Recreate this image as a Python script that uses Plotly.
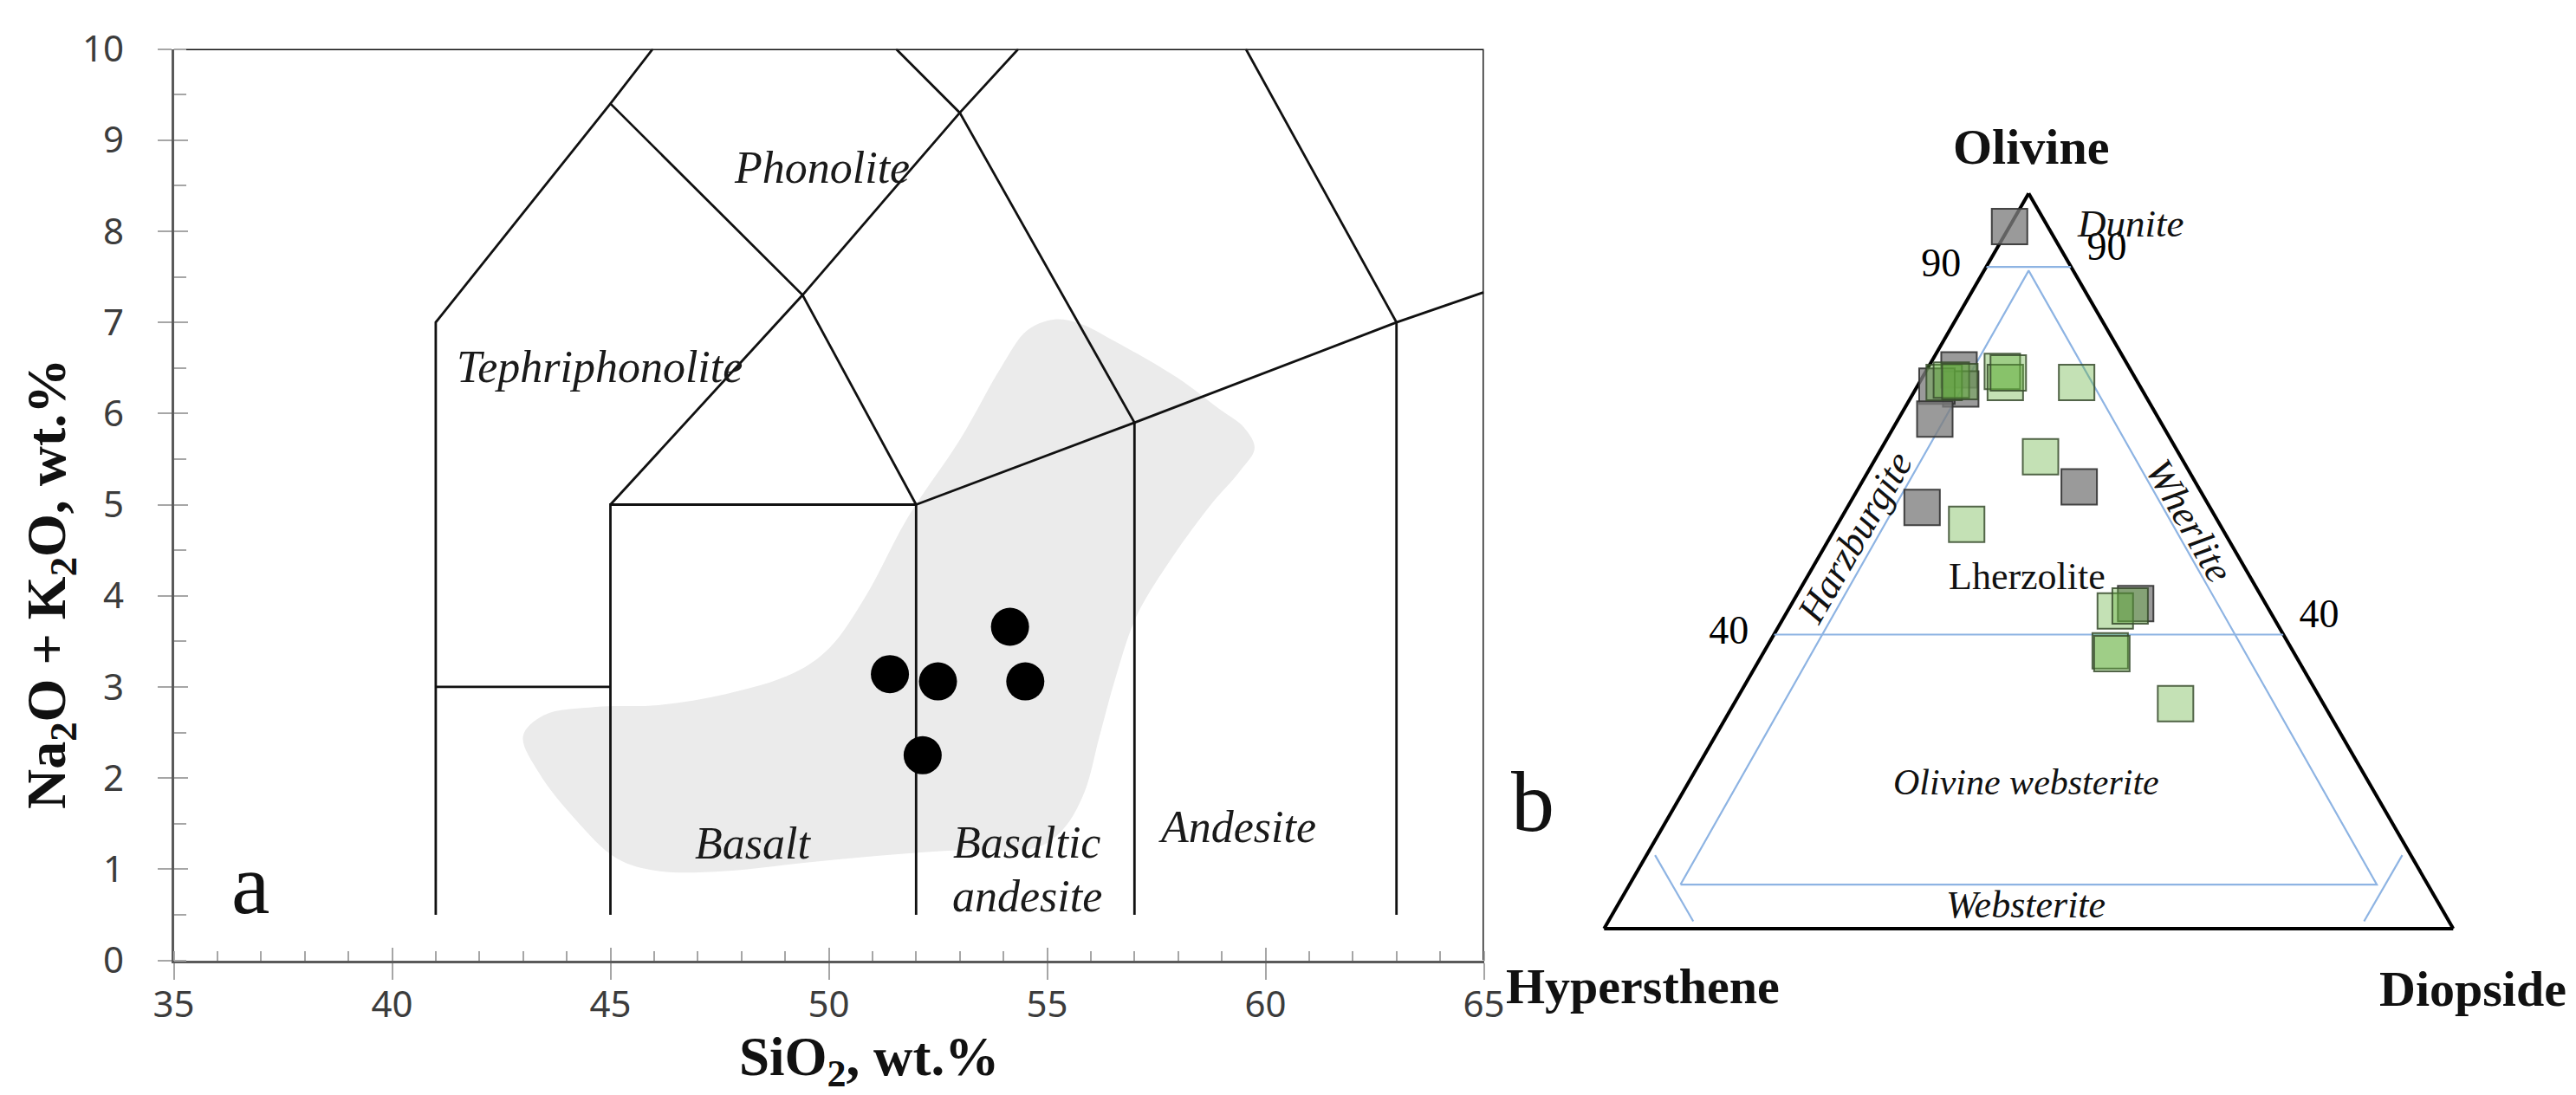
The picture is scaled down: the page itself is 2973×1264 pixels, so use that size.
import plotly.graph_objects as go

# ---------------- Panel a : TAS diagram ----------------
sio2_samples = [51.4, 52.5, 52.15, 54.15, 54.5]
alk_samples = [3.14, 3.06, 2.25, 3.66, 3.06]

# grey reference field (outline)
field_x = [43.0, 43.48, 44.67, 46.1, 47.64, 49.19, 50.02, 50.85, 51.81, 53.0, 53.95, 54.54,
           55.14, 55.73, 56.56, 57.99, 58.94, 59.5, 59.75, 59.42, 58.7, 57.75, 57.04, 56.56,
           56.2, 55.85, 55.37, 54.78, 53.0, 51.21, 49.43, 47.64, 46.1, 45.14, 44.19, 43.36, 43.0]
field_y = [2.46, 2.69, 2.78, 2.80, 2.92, 3.15, 3.43, 4.0, 4.86, 5.71, 6.51, 6.91,
           7.03, 6.99, 6.79, 6.39, 6.05, 5.85, 5.62, 5.37, 4.97, 4.34, 3.77, 3.09,
           2.46, 1.84, 1.44, 1.24, 1.21, 1.15, 1.07, 0.98, 0.98, 1.12, 1.55, 2.06, 2.46]

# TAS field boundaries (polylines)
boundary_x = [
    [41, 41, 45, 45.97],
    [41, 45],
    [45, 45, 52, 52],
    [45, 49.4, 53, 54.34],
    [52, 49.4, 45],
    [52, 57, 63, 65],
    [57, 57, 53, 51.54],
    [63, 63, 59.55],
    [35, 65, 65],
]
boundary_y = [
    [0.5, 7, 9.4, 10],
    [3, 3],
    [0.5, 5, 5, 0.5],
    [5, 7.3, 9.3, 10],
    [5, 7.3, 9.4],
    [5, 5.9, 7, 7.33],
    [0.5, 5.9, 9.3, 10],
    [0.5, 7, 10],
    [10, 10, 0],
]

tas_label_text = ["Phonolite", "Tephriphonolite", "Basalt", "Basaltic", "andesite", "Andesite"]
tas_label_x = [49.85, 44.76, 48.27, 54.54, 54.54, 59.36]
tas_label_y = [8.70, 6.51, 1.28, 1.29, 0.70, 1.46]

x_ticks = [35, 40, 45, 50, 55, 60, 65]
y_ticks = [0, 1, 2, 3, 4, 5, 6, 7, 8, 9, 10]

# ---------------- Panel b : Ol-Opx-Cpx ternary ----------------
grey_ol = [95.5, 76.0, 73.4, 73.8, 69.3, 57.3, 60.1, 44.2]
grey_opx = [4.5, 20.2, 21.3, 23.9, 26.4, 33.9, 14.0, 15.3]
grey_cpx = [0.0, 3.8, 5.3, 2.3, 4.3, 8.8, 25.9, 40.5]

green_ol = [74.3, 74.6, 74.4, 75.8, 74.3, 75.6, 74.3, 64.2, 55.0, 43.2, 37.8, 37.4, 30.6, 43.9]
green_opx = [22.8, 21.8, 20.9, 15.2, 15.6, 14.6, 7.2, 16.5, 29.8, 18.2, 21.5, 21.5, 17.4, 16.1]
green_cpx = [2.9, 3.6, 4.7, 9.0, 10.1, 9.8, 18.5, 19.3, 15.2, 38.6, 40.7, 41.1, 52.0, 40.0]

# classification lines (ol, opx, cpx)
class_ol = [[90, 90], [40, 40], [6, 89.5, 6, 6], [10, 1], [10, 1]]
class_opx = [[10, 0], [60, 0], [88, 5.25, 6, 88], [89, 89], [1, 10]]
class_cpx = [[0, 10], [0, 60], [6, 5.25, 88, 6], [1, 10], [89, 89]]

ternary_ticks_ol = [40, 90]

SERIF = "Liberation Serif"
SANS = "Noto Sans"
W, H = 2973, 1264

fig = go.Figure()

# grey field
fig.add_trace(go.Scatter(
    x=field_x, y=field_y, mode="lines", fill="toself", fillcolor="#ebebeb",
    line=dict(color="rgba(0,0,0,0)", shape="spline", smoothing=1),
    hoverinfo="skip", showlegend=False, xaxis="x", yaxis="y"))

# boundaries
for bx, by in zip(boundary_x, boundary_y):
    fig.add_trace(go.Scatter(
        x=bx, y=by, mode="lines", line=dict(color="#111111", width=2.8),
        hoverinfo="skip", showlegend=False, xaxis="x", yaxis="y"))

# samples (on overlay axes that carry the inner half of the major ticks)
fig.add_trace(go.Scatter(
    x=sio2_samples, y=alk_samples, mode="markers",
    marker=dict(symbol="circle", size=44, color="black"),
    showlegend=False, xaxis="x3", yaxis="y3"))

# ternary classification lines
for la, lb, lc in zip(class_ol, class_opx, class_cpx):
    fig.add_trace(go.Scatterternary(
        a=la, b=lb, c=lc, mode="lines",
        line=dict(color="#8eb4e3", width=2.2), hoverinfo="skip", showlegend=False))

fig.add_trace(go.Scatterternary(
    a=grey_ol, b=grey_opx, c=grey_cpx, mode="markers", cliponaxis=False,
    marker=dict(symbol="square", size=41, color="rgba(125,125,125,0.78)",
                line=dict(color="rgba(50,50,50,0.9)", width=2)),
    showlegend=False))
fig.add_trace(go.Scatterternary(
    a=green_ol, b=green_opx, c=green_cpx, mode="markers", cliponaxis=False,
    marker=dict(symbol="square", size=41, color="rgba(100,175,60,0.38)",
                line=dict(color="rgba(55,75,45,0.85)", width=2)),
    showlegend=False))

# ---- axes domains (pixel geometry -> paper fractions)
x_dom = [192.5 / W, 1704.5 / W]
y_dom = [(H - 1100.5) / H, (H - 48.5) / H]

tick_col = "#a6a6a6"
tickfont = dict(family=SANS, size=42, color="#3c3c3c")

common_x = dict(domain=x_dom, range=[35, 65], tickmode="array", tickvals=x_ticks,
                showgrid=False, zeroline=False, automargin=False)
common_y = dict(domain=y_dom, range=[0, 10], tickmode="array", tickvals=y_ticks,
                showgrid=False, zeroline=False, automargin=False)

tern_font = dict(family=SERIF, size=46, color="black")
tern_common = dict(ticks="outside", ticklen=22, tickcolor="rgba(0,0,0,0)", showgrid=False,
                   linecolor="black", linewidth=4, layer="below traces", title=dict(text=""))

fig.update_layout(
    template="none",
    xaxis=dict(**common_x, anchor="y", ticks="outside", ticklen=19, tickwidth=2,
               tickcolor=tick_col, showline=True, linecolor="#5a5a5a", linewidth=3,
               tickfont=tickfont, ticklabelstandoff=-7,
               minor=dict(ticks="inside", dtick=1, ticklen=11, tickwidth=2, tickcolor=tick_col)),
    yaxis=dict(**common_y, anchor="x", ticks="outside", ticklen=16, tickwidth=2,
               tickcolor=tick_col, showline=True, linecolor="#5a5a5a", linewidth=3,
               tickfont=tickfont, ticklabelstandoff=30,
               minor=dict(ticks="inside", dtick=0.5, ticklen=14, tickwidth=2, tickcolor=tick_col)),
    xaxis3=dict(**common_x, overlaying="x", anchor="y3", ticks="inside", ticklen=15,
                tickwidth=2, tickcolor=tick_col, showticklabels=False, showline=False),
    yaxis3=dict(**common_y, overlaying="y", anchor="x3", ticks="inside", ticklen=16,
                tickwidth=2, tickcolor=tick_col, showticklabels=False, showline=False),
    ternary=dict(
        domain=dict(x=[1843.3 / W, 2823.3 / W], y=[(H - 1064) / H, (H - 215.3) / H]),
        sum=100, bgcolor="rgba(0,0,0,0)",
        aaxis=dict(**tern_common, tickmode="array", tickvals=ternary_ticks_ol,
                   ticktext=[str(v) for v in ternary_ticks_ol], tickfont=tern_font),
        baxis=dict(**tern_common, showticklabels=False),
        caxis=dict(**tern_common, tickmode="array", tickvals=[100 - v for v in ternary_ticks_ol],
                   ticktext=[str(v) for v in ternary_ticks_ol], tickfont=tern_font),
    ),
    width=W, height=H, margin=dict(l=0, r=0, t=0, b=0, pad=0),
    paper_bgcolor="white", plot_bgcolor="rgba(0,0,0,0)", showlegend=False,
)

ann = []
# TAS field labels
for t, lx, ly in zip(tas_label_text, tas_label_x, tas_label_y):
    ann.append(dict(x=lx, y=ly, xref="x", yref="y", text="<i>%s</i>" % t, showarrow=False,
                    xanchor="center", yanchor="middle",
                    font=dict(family=SERIF, size=52, color="#1a1a1a")))

def pann(px, py, text, size, angle=0):
    ann.append(dict(x=px / W, y=(H - py) / H, xref="paper", yref="paper", text=text,
                    showarrow=False, textangle=angle, xanchor="center", yanchor="middle",
                    font=dict(family=SERIF, size=size, color="#111111")))

# axis titles
pann(994.6, 1216, "<b>SiO<sub>2</sub>, wt.%</b>", 63)
pann(50, 666, "<b>Na<sub>2</sub>O + K<sub>2</sub>O, wt.%</b>", 64, angle=-90)
# panel letters
pann(281, 1012, "a", 100)
pann(1761, 917, "b", 100)
# ternary apex titles
pann(2336, 161, "<b>Olivine</b>", 58)
pann(1888, 1130, "<b>Hypersthene</b>", 58)
pann(2846, 1133, "<b>Diopside</b>", 58)
# ternary field names
pann(2450, 250, "<i>Dunite</i>", 45)
pann(2132, 612.7, "<i>Harzburgite</i>", 45, angle=-60)
pann(2519, 592.5, "<i>Wherlite</i>", 45, angle=60)
pann(2331, 657, "Lherzolite", 44)
pann(2330, 895, "<i>Olivine websterite</i>", 42)
pann(2330, 1036, "<i>Websterite</i>", 44)

fig.update_layout(annotations=ann)
fig.write_html("out.html")
